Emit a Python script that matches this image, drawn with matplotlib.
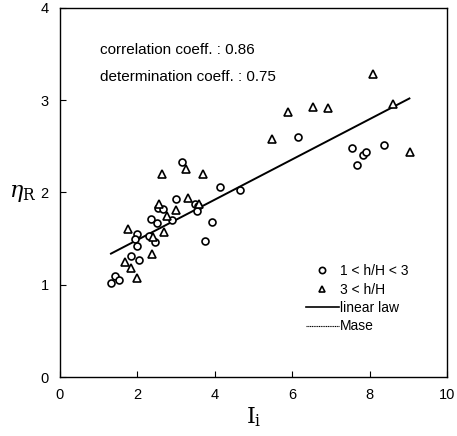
import numpy as np
import matplotlib
matplotlib.use('Agg')
import matplotlib.pyplot as plt
from matplotlib.lines import Line2D

plt.rcParams['font.family'] = ['Liberation Sans', 'DejaVu Sans']
plt.rcParams['mathtext.fontset'] = 'dejavuserif'

# 1 < h/H < 3 (circles)
circ_x = [1.32, 1.42, 1.52, 1.83, 2.05, 1.98, 1.94, 2.00, 2.31, 2.47, 2.35, 2.51,
          2.54, 2.67, 2.89, 3.01, 3.16, 3.49, 3.57, 3.53, 3.94, 3.75, 4.13, 4.65,
          6.14, 7.55, 7.84, 7.90, 7.68, 8.37]
circ_y = [1.02, 1.10, 1.05, 1.31, 1.27, 1.55, 1.50, 1.42, 1.53, 1.46, 1.71, 1.67,
          1.83, 1.82, 1.70, 1.93, 2.33, 1.87, 1.85, 1.80, 1.68, 1.47, 2.06, 2.03,
          2.60, 2.48, 2.41, 2.44, 2.30, 2.51]

# 3 < h/H (triangles)
tri_x = [1.68, 1.83, 1.98, 1.77, 2.37, 2.41, 2.70, 2.57, 2.76, 2.63, 3.01, 3.27,
         3.32, 3.70, 3.60, 5.49, 5.90, 6.53, 6.93, 8.08, 8.61, 9.04]
tri_y = [1.25, 1.18, 1.07, 1.60, 1.33, 1.52, 1.57, 1.87, 1.75, 2.20, 1.81, 2.25,
         1.94, 2.20, 1.88, 2.58, 2.87, 2.93, 2.91, 3.28, 2.96, 2.44]

# linear law fit
fit_x = [1.32, 9.03]
fit_a, fit_b = 1.05, 0.218

fig = plt.figure(figsize=(4.57, 4.36), dpi=100)
ax = fig.add_axes([0.131, 0.135, 0.847, 0.847])

ax.plot(circ_x, circ_y, 'o', mfc='white', mec='black', ms=5, mew=1.2,
        linestyle='none', zorder=3)
ax.plot(tri_x, tri_y, '^', mfc='white', mec='black', ms=5.5, mew=1.2,
        linestyle='none', zorder=3)
xs = np.array(fit_x)
ax.plot(xs, fit_a + fit_b * xs, color='black', lw=1.4, zorder=2)

ax.set_xlim(0, 10)
ax.set_ylim(0, 4)
ax.set_xticks([0, 2, 4, 6, 8, 10])
ax.set_yticks([0, 1, 2, 3, 4])
ax.tick_params(direction='in', length=4, width=0.8, labelsize=10.5, pad=8)
for s in ax.spines.values():
    s.set_linewidth(1.0)

ax.set_xlabel(r'$\mathrm{I}_\mathrm{i}$', fontsize=16, labelpad=2)
ax.set_ylabel(r'$\eta_\mathrm{R}$', fontsize=16, rotation=0)
ax.yaxis.set_label_coords(-0.095, 0.47)

ax.text(0.103, 0.886, 'correlation coeff. : 0.86', transform=ax.transAxes,
        fontsize=11, va='center')
ax.text(0.103, 0.813, 'determination coeff. : 0.75', transform=ax.transAxes,
        fontsize=11, va='center')

handles = [
    Line2D([], [], marker='o', mfc='white', mec='black', ms=4.5, mew=1.2, ls='none'),
    Line2D([], [], marker='^', mfc='white', mec='black', ms=5, mew=1.2, ls='none'),
    Line2D([], [], color='black', lw=1.2),
    Line2D([], [], color='black', lw=0.8, ls=(0, (1, 0.6))),
]
labels = ['1 < h/H < 3', '3 < h/H', 'linear law', 'Mase']
ax.legend(handles, labels, loc='upper left', bbox_to_anchor=(0.617, 0.325),
          frameon=False, fontsize=10, handlelength=2.4, handletextpad=0.1,
          labelspacing=0.32, borderpad=0)

fig.savefig('out.png', dpi=100, facecolor='white')
